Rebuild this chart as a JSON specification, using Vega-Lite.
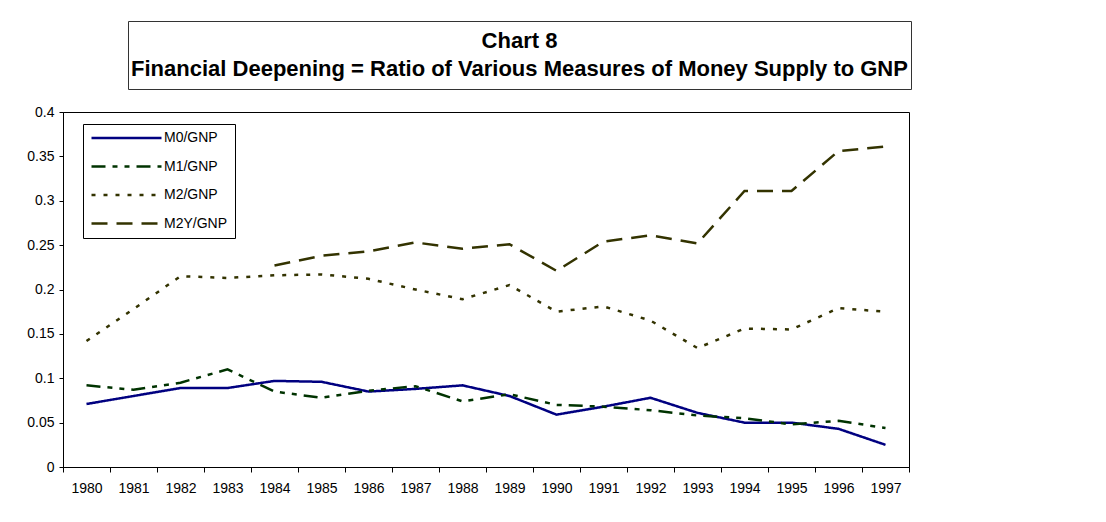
{
  "$schema": "https://vega.github.io/schema/vega-lite/v6.json",
  "background": "white",
  "padding": {"left": 23, "top": 20, "right": 10, "bottom": 10},
  "spacing": 14,
  "config": {
    "font": "Liberation Sans",
    "axis": {"labelFont": "Liberation Sans", "labelColor": "#000", "domainColor": "#000", "tickColor": "#000"}
  },
  "resolve": {"scale": {"color": "independent", "strokeDash": "independent"}},
  "vconcat": [
    {
      "spacing": 10,
      "hconcat": [
        {
          "width": 54,
          "height": 68,
          "view": {"stroke": null},
          "data": {"values": []},
          "mark": {"type": "text"},
          "encoding": {}
        },
        {
          "width": 783,
          "height": 68,
          "view": {"stroke": "#333", "strokeWidth": 1},
          "data": {"values": [
            {"line": 1, "text": "Chart 8"},
            {"line": 2, "text": "Financial Deepening = Ratio of Various Measures of Money Supply to GNP"}
          ]},
          "mark": {"type": "text", "font": "Liberation Sans", "fontWeight": "bold", "fontSize": 22, "color": "#000", "baseline": "middle", "align": "center"},
          "encoding": {
            "y": {"field": "line", "type": "ordinal", "scale": {"type": "point", "padding": 0.7}, "axis": null},
            "text": {"field": "text", "type": "nominal"}
          }
        }
      ]
    },
    {
      "width": 846,
      "height": 355,
      "view": {"stroke": "#000", "strokeWidth": 1},
      "data": {"values": [
        {"year": "1980", "series": "M0/GNP", "value": 0.071},
        {"year": "1981", "series": "M0/GNP", "value": 0.080},
        {"year": "1982", "series": "M0/GNP", "value": 0.089},
        {"year": "1983", "series": "M0/GNP", "value": 0.089},
        {"year": "1984", "series": "M0/GNP", "value": 0.097},
        {"year": "1985", "series": "M0/GNP", "value": 0.096},
        {"year": "1986", "series": "M0/GNP", "value": 0.085},
        {"year": "1987", "series": "M0/GNP", "value": 0.088},
        {"year": "1988", "series": "M0/GNP", "value": 0.092},
        {"year": "1989", "series": "M0/GNP", "value": 0.080},
        {"year": "1990", "series": "M0/GNP", "value": 0.059},
        {"year": "1991", "series": "M0/GNP", "value": 0.068},
        {"year": "1992", "series": "M0/GNP", "value": 0.078},
        {"year": "1993", "series": "M0/GNP", "value": 0.061},
        {"year": "1994", "series": "M0/GNP", "value": 0.050},
        {"year": "1995", "series": "M0/GNP", "value": 0.050},
        {"year": "1996", "series": "M0/GNP", "value": 0.043},
        {"year": "1997", "series": "M0/GNP", "value": 0.025},
        {"year": "1980", "series": "M1/GNP", "value": 0.092},
        {"year": "1981", "series": "M1/GNP", "value": 0.087},
        {"year": "1982", "series": "M1/GNP", "value": 0.095},
        {"year": "1983", "series": "M1/GNP", "value": 0.110},
        {"year": "1984", "series": "M1/GNP", "value": 0.085},
        {"year": "1985", "series": "M1/GNP", "value": 0.078},
        {"year": "1986", "series": "M1/GNP", "value": 0.086},
        {"year": "1987", "series": "M1/GNP", "value": 0.091},
        {"year": "1988", "series": "M1/GNP", "value": 0.074},
        {"year": "1989", "series": "M1/GNP", "value": 0.082},
        {"year": "1990", "series": "M1/GNP", "value": 0.070},
        {"year": "1991", "series": "M1/GNP", "value": 0.068},
        {"year": "1992", "series": "M1/GNP", "value": 0.064},
        {"year": "1993", "series": "M1/GNP", "value": 0.058},
        {"year": "1994", "series": "M1/GNP", "value": 0.055},
        {"year": "1995", "series": "M1/GNP", "value": 0.048},
        {"year": "1996", "series": "M1/GNP", "value": 0.052},
        {"year": "1997", "series": "M1/GNP", "value": 0.044},
        {"year": "1980", "series": "M2/GNP", "value": 0.142},
        {"year": "1981", "series": "M2/GNP", "value": 0.178},
        {"year": "1982", "series": "M2/GNP", "value": 0.215},
        {"year": "1983", "series": "M2/GNP", "value": 0.213},
        {"year": "1984", "series": "M2/GNP", "value": 0.216},
        {"year": "1985", "series": "M2/GNP", "value": 0.217},
        {"year": "1986", "series": "M2/GNP", "value": 0.212},
        {"year": "1987", "series": "M2/GNP", "value": 0.200},
        {"year": "1988", "series": "M2/GNP", "value": 0.189},
        {"year": "1989", "series": "M2/GNP", "value": 0.205},
        {"year": "1990", "series": "M2/GNP", "value": 0.175},
        {"year": "1991", "series": "M2/GNP", "value": 0.181},
        {"year": "1992", "series": "M2/GNP", "value": 0.165},
        {"year": "1993", "series": "M2/GNP", "value": 0.134},
        {"year": "1994", "series": "M2/GNP", "value": 0.156},
        {"year": "1995", "series": "M2/GNP", "value": 0.155},
        {"year": "1996", "series": "M2/GNP", "value": 0.179},
        {"year": "1997", "series": "M2/GNP", "value": 0.175},
        {"year": "1984", "series": "M2Y/GNP", "value": 0.227},
        {"year": "1985", "series": "M2Y/GNP", "value": 0.238},
        {"year": "1986", "series": "M2Y/GNP", "value": 0.243},
        {"year": "1987", "series": "M2Y/GNP", "value": 0.253},
        {"year": "1988", "series": "M2Y/GNP", "value": 0.246},
        {"year": "1989", "series": "M2Y/GNP", "value": 0.251},
        {"year": "1990", "series": "M2Y/GNP", "value": 0.221},
        {"year": "1991", "series": "M2Y/GNP", "value": 0.254},
        {"year": "1992", "series": "M2Y/GNP", "value": 0.261},
        {"year": "1993", "series": "M2Y/GNP", "value": 0.252},
        {"year": "1994", "series": "M2Y/GNP", "value": 0.311},
        {"year": "1995", "series": "M2Y/GNP", "value": 0.311},
        {"year": "1996", "series": "M2Y/GNP", "value": 0.356},
        {"year": "1997", "series": "M2Y/GNP", "value": 0.361}
      ]},
      "mark": {"type": "line", "strokeWidth": 2.5},
      "encoding": {
        "x": {"field": "year", "type": "ordinal",
          "scale": {"type": "band", "paddingInner": 0, "paddingOuter": 0},
          "axis": {"title": null, "labelAngle": 0, "tickBand": "extent", "tickSize": 5, "labelPadding": 9, "labelFontSize": 14}},
        "y": {"field": "value", "type": "quantitative",
          "scale": {"domain": [0, 0.4], "nice": false, "zero": true},
          "axis": {"title": null, "values": [0, 0.05, 0.1, 0.15, 0.2, 0.25, 0.3, 0.35, 0.4], "format": "~g", "grid": false, "tickSize": 4, "labelPadding": 5, "labelFontSize": 14, "minExtent": 39, "maxExtent": 39}},
        "color": {"field": "series", "type": "nominal",
          "scale": {"domain": ["M0/GNP", "M1/GNP", "M2/GNP", "M2Y/GNP"], "range": ["#000080", "#003300", "#333300", "#333300"]},
          "legend": {"title": null, "orient": "none", "legendX": 20, "legendY": 12, "symbolType": "stroke", "symbolSize": 4900, "symbolStrokeWidth": 2.5, "clipHeight": 14, "labelFontSize": 14, "labelColor": "#000", "labelOffset": 1, "rowPadding": 14.5, "padding": 7, "strokeColor": "#000", "fillColor": "#fff"}},
        "strokeDash": {"field": "series", "type": "nominal",
          "scale": {"domain": ["M0/GNP", "M1/GNP", "M2/GNP", "M2Y/GNP"], "range": [[1, 0], [14, 7, 5, 7, 5, 7], [4, 8], [16, 9]]},
          "legend": {"title": null, "orient": "none", "legendX": 20, "legendY": 12, "symbolType": "stroke", "symbolSize": 4900, "symbolStrokeWidth": 2.5, "clipHeight": 14, "labelFontSize": 14, "labelColor": "#000", "labelOffset": 1, "rowPadding": 14.5, "padding": 7, "strokeColor": "#000", "fillColor": "#fff"}}
      }
    }
  ]
}
